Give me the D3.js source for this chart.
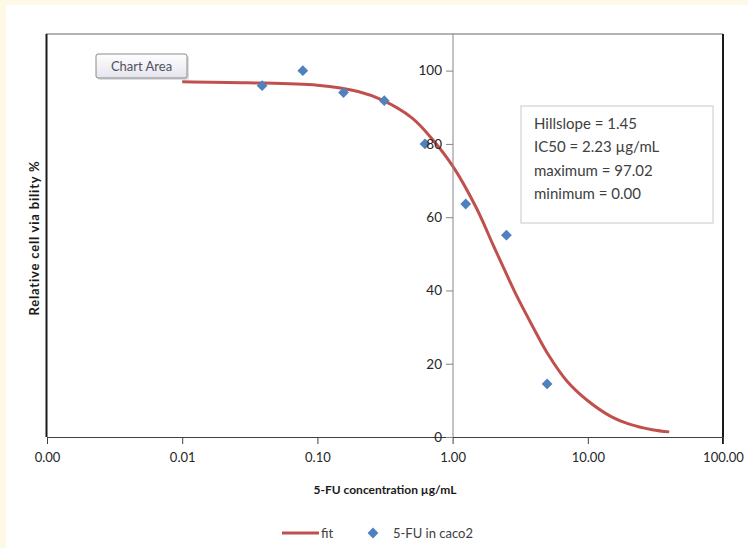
<!DOCTYPE html>
<html>
<head>
<meta charset="utf-8">
<script src="https://cdn.jsdelivr.net/npm/d3@7/dist/d3.min.js"></script>
<style>
  body { margin: 0; background: #fdf9e6; }
  #chart { width: 748px; height: 548px; }
</style>
</head>
<body>
<div id="chart"></div>
<script>
// measured points (5-FU in caco2)
var conc = [0.039, 0.078, 0.156, 0.3125, 0.625, 1.25, 2.5, 5];
var viability = [95.9, 100, 94, 91.8, 80, 63.6, 55.1, 14.5];

// fitted curve
var fitX = [0.01, 0.03, 0.1, 0.2, 0.3, 0.5, 0.7, 1, 1.5, 2, 2.5, 3, 4, 5, 7, 10, 15, 20, 30, 40];
var fitY = [97.0, 96.7, 96.0, 94.3, 92.0, 87.1, 81.5, 74.0, 62.5, 52.3, 44.5, 38.3, 29.5, 23.0, 15.3, 9.9, 5.5, 3.6, 2.0, 1.4];

var xTicks = [0.001, 0.01, 0.1, 1, 10, 100];
var yTicks = [0, 20, 40, 60, 80, 100];
var fitText = ["Hillslope = 1.45", "IC50 = 2.23 \u00b5g/mL", "maximum = 97.02", "minimum = 0.00"];

function draw_chart() {
    var W = 748, H = 548;
    var left = 47, right = 723, top = 34, bottom = 437;
    var font = "Lato, 'Open Sans', sans-serif";

    var svg = d3.select("#chart").append("svg")
        .attr("width", W)
        .attr("height", H);

    // white chart area on cream page
    svg.append("rect")
        .attr("x", 6).attr("y", 5)
        .attr("width", W - 6).attr("height", H - 5)
        .attr("fill", "#ffffff");

    var x = d3.scaleLog().domain([0.001, 100]).range([left, right]);
    var y = d3.scaleLinear().domain([0, 110]).range([bottom, top]);

    // plot frame
    svg.append("line")
        .attr("x1", left - 1).attr("x2", right).attr("y1", top).attr("y2", top)
        .attr("stroke", "#9a9a9a").attr("stroke-width", 1.5);
    svg.append("line")
        .attr("x1", left - 0.5).attr("x2", left - 0.5).attr("y1", top).attr("y2", bottom)
        .attr("stroke", "#1a1a1a").attr("stroke-width", 2);
    svg.append("line")
        .attr("x1", right).attr("x2", right).attr("y1", top).attr("y2", bottom + 7)
        .attr("stroke", "#1a1a1a").attr("stroke-width", 2);

    // x axis
    var xAxis = svg.append("g")
        .attr("transform", "translate(0," + bottom + ")")
        .call(d3.axisBottom(x)
            .tickValues(xTicks)
            .tickSize(7)
            .tickFormat(d3.format(".2f")));
    xAxis.select(".domain").attr("stroke", "#404040");
    xAxis.selectAll(".tick line").attr("stroke", "#404040");
    xAxis.selectAll("text")
        .attr("dy", "1.15em")
        .style("font-family", font)
        .style("font-size", "13px")
        .style("fill", "#262626");

    // fit curve
    var fitData = fitX.map(function(d, i) { return [d, fitY[i]]; });
    svg.append("path")
        .datum(fitData)
        .attr("fill", "none")
        .attr("stroke", "#c0504d")
        .attr("stroke-width", 3)
        .attr("d", d3.line()
            .x(function(d) { return x(d[0]); })
            .y(function(d) { return y(d[1]); })
            .curve(d3.curveCatmullRom.alpha(0.5)));

    // data points
    var diamond = d3.symbol().type(d3.symbolSquare).size(58);
    svg.append("g")
        .selectAll("path")
        .data(conc)
        .enter()
        .append("path")
        .attr("d", diamond)
        .attr("transform", function(d, i) {
            return "translate(" + x(d) + "," + y(viability[i]) + ") rotate(45)";
        })
        .attr("fill", "#4f81bd");

    // y axis crossing at x = 1, labels drawn over the points
    var yAxis = svg.append("g")
        .attr("transform", "translate(" + Math.round(x(1)) + ",0)")
        .call(d3.axisLeft(y)
            .tickValues(yTicks)
            .tickSize(7)
            .tickFormat(d3.format("d")));
    yAxis.select(".domain").attr("d", "M0," + top + "V" + bottom).attr("stroke", "#868686");
    yAxis.selectAll(".tick line").attr("stroke", "#868686");
    yAxis.selectAll("text")
        .attr("x", -11)
        .style("font-family", font)
        .style("font-size", "13.5px")
        .style("fill", "#262626");

    // parameter box
    var box = svg.append("g").attr("transform", "translate(521,106)");
    box.append("rect")
        .attr("width", 192).attr("height", 117)
        .attr("fill", "#ffffff")
        .attr("stroke", "#c8c8c8")
        .attr("stroke-width", 1);
    box.selectAll("text")
        .data(fitText)
        .enter()
        .append("text")
        .attr("x", 13)
        .attr("y", function(d, i) { return 23 + i * 23.3; })
        .style("font-family", font)
        .style("font-size", "15px")
        .style("fill", "#404040")
        .text(function(d) { return d; });

    // "Chart Area" tooltip
    var tip = svg.append("g").attr("transform", "translate(96,54)");
    var grad = svg.append("defs").append("linearGradient")
        .attr("id", "tipgrad").attr("x1", 0).attr("x2", 0).attr("y1", 0).attr("y2", 1);
    grad.append("stop").attr("offset", "0%").attr("stop-color", "#ffffff");
    grad.append("stop").attr("offset", "100%").attr("stop-color", "#e4e4ee");
    tip.append("rect")
        .attr("x", 2).attr("y", 2)
        .attr("width", 91).attr("height", 24).attr("rx", 2)
        .attr("fill", "#c8c8c8").attr("opacity", 0.6);
    tip.append("rect")
        .attr("width", 91).attr("height", 24).attr("rx", 2)
        .attr("fill", "url(#tipgrad)")
        .attr("stroke", "#8a8a8a");
    tip.append("text")
        .attr("x", 45.5).attr("y", 17)
        .attr("text-anchor", "middle")
        .style("font-family", font)
        .style("font-size", "13px")
        .style("fill", "#505060")
        .text("Chart Area");

    // axis titles
    svg.append("text")
        .attr("x", 385).attr("y", 494)
        .attr("text-anchor", "middle")
        .style("font-family", font)
        .style("font-size", "12px")
        .style("font-weight", "bold")
        .style("fill", "#1a1a1a")
        .text("5-FU concentration \u00b5g/mL");

    svg.append("text")
        .attr("transform", "translate(39,238) rotate(-90)")
        .attr("text-anchor", "middle")
        .style("font-family", font)
        .style("font-size", "13px")
        .style("font-weight", "bold")
        .style("letter-spacing", "0.8px")
        .style("fill", "#1a1a1a")
        .text("Relative cell via bility %");

    // legend
    var legend = svg.append("g").attr("transform", "translate(0,533)");
    legend.append("line")
        .attr("x1", 282).attr("x2", 319).attr("y1", 0).attr("y2", 0)
        .attr("stroke", "#c0504d").attr("stroke-width", 3);
    legend.append("text")
        .attr("x", 321).attr("y", 5)
        .style("font-family", font).style("font-size", "13px").style("fill", "#404040")
        .text("fit");
    legend.append("path")
        .attr("d", diamond)
        .attr("transform", "translate(373,0) rotate(45)")
        .attr("fill", "#4f81bd");
    legend.append("text")
        .attr("x", 393).attr("y", 5)
        .style("font-family", font).style("font-size", "13px").style("fill", "#404040")
        .text("5-FU in caco2");
}

draw_chart();
</script>
</body>
</html>
